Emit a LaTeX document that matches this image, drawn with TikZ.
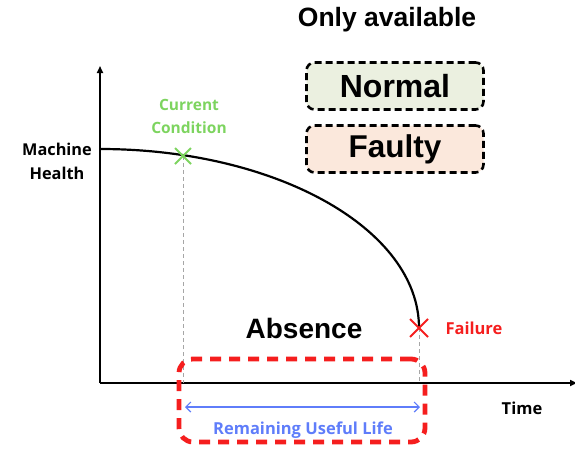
\documentclass[tikz,border=0pt]{standalone}
\usepackage{fontspec}
\setmainfont{Liberation Sans}
\newfontfamily\labelfont{Open Sans}
\usetikzlibrary{arrows.meta,calc}
\definecolor{curgreen}{RGB}{125,212,95}
\definecolor{failred}{RGB}{245,30,30}
\definecolor{rulblue}{RGB}{95,125,250}
\definecolor{normalfill}{RGB}{235,240,224}
\definecolor{faultyfill}{RGB}{251,232,220}
\tikzset{
  axis/.style={line width=1.6pt,-{Triangle[length=7pt,width=6pt]}},
  guide/.style={gray!70,line width=1pt,dash pattern=on 4pt off 3pt},
  cross/.style={line width=2pt,line cap=butt},
  lbl/.style={font=\labelfont\bfseries\fontsize{15.5}{23}\selectfont,align=center},
  classbox/.style={draw=black,line width=2.6pt,dash pattern=on 7pt off 4pt,rounded corners=8pt,minimum width=177pt,minimum height=47pt},
  heading/.style={font=\bfseries\fontsize{26.5}{28}\selectfont}
}
\begin{document}
\begin{tikzpicture}[x=1pt,y=-1pt]
\useasboundingbox (0,0) rectangle (575,450);
% axes
\coordinate (O) at (100,383);
\coordinate (ytop) at (100,66);
\coordinate (xend) at (577,383);
\draw[axis] (O) -- (ytop);
\draw[axis] (O) -- (xend);
% health curve
\coordinate (start) at (100,149);
\coordinate (cur) at (183,156);
\coordinate (fail) at (419,328);
\draw[line width=2.2pt] (start) .. controls (276,149) and (419,229) .. (fail);
% guides down to the time axis
\coordinate (curfoot) at (183,383);
\coordinate (failfoot) at (419,383);
\draw[guide] (cur) -- (curfoot);
\draw[guide] (fail) -- (failfoot);
% markers
\draw[cross,curgreen] ($(cur)+(-8,-8)$) -- ($(cur)+(8,8)$) ($(cur)+(-8,8)$) -- ($(cur)+(8,-8)$);
\draw[cross,failred] ($(fail)+(-9,-9)$) -- ($(fail)+(9,9)$) ($(fail)+(-9,9)$) -- ($(fail)+(9,-9)$);
% labels
\node[lbl,text=curgreen] (curlbl) at (189,116) {Current\\Condition};
\node[lbl,text=failred,anchor=west,font=\labelfont\bfseries\fontsize{16.5}{18}\selectfont] (faillbl) at (442,328) {Failure};
\node[lbl,font=\labelfont\bfseries\fontsize{16.3}{24}\selectfont] (health) at (57,161) {Machine\\Health};
\node[lbl,font=\labelfont\bfseries\fontsize{16.5}{18}\selectfont] (time) at (522,408) {Time};
% class boxes
\node[heading] (avail) at (387,20) {Only available};
\node[classbox,fill=normalfill,font=\bfseries\fontsize{32}{32}\selectfont] (normal) at (395,86) {Normal};
\node[classbox,fill=faultyfill,font=\bfseries\fontsize{31.5}{32}\selectfont] (faulty) at (395,149) {Faulty};
% missing run-to-failure region
\node[heading,font=\bfseries\fontsize{28}{29}\selectfont] (absence) at (304,328) {Absence};
\node[draw=failred,line width=4.8pt,dash pattern=on 11pt off 8pt,rounded corners=14pt,minimum width=246pt,minimum height=83pt] (rulbox) at (302,400.5) {};
\coordinate (rulL) at (185,407);
\coordinate (rulR) at (420,407);
\draw[rulblue,line width=1.2pt,{Straight Barb[length=5pt]}-{Straight Barb[length=5pt]}] (rulL) -- (rulR);
\node[lbl,text=rulblue,font=\labelfont\bfseries\fontsize{16.5}{18}\selectfont] (rul) at (303,430) {Remaining Useful Life};
\end{tikzpicture}
\end{document}
